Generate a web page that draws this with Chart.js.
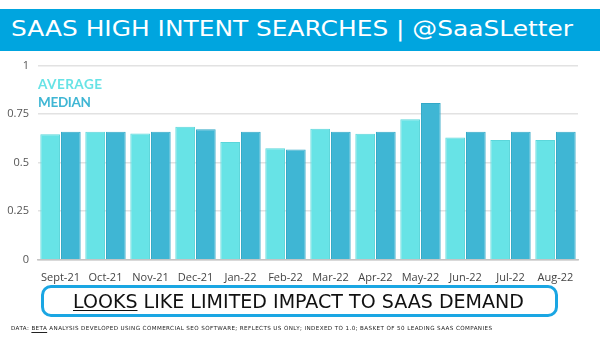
<!DOCTYPE html>
<html>
<head>
<meta charset="utf-8">
<script src="https://cdn.jsdelivr.net/npm/chart.js@4"></script>
<style>
  body { margin: 0; width: 600px; height: 338px; background: #fff; position: relative; overflow: hidden; font-family: "DejaVu Sans", sans-serif; }
  #titleBar { position: absolute; left: 0; top: 9px; width: 600px; height: 42px; background: #00a5df; }
  .txt { position: absolute; white-space: nowrap; line-height: 1; transform-origin: 0 50%; }
  #title { left: 11px; top: 19px; color: #fff; font-size: 21px; }
  #chartBox { position: absolute; left: 0; top: 50px; width: 600px; height: 237px; }
  .leg { left: 38px; font-family: Lato, sans-serif; font-weight: bold; font-size: 13.5px; }
  #calloutBox { position: absolute; left: 41px; top: 285px; width: 517px; height: 32px; box-sizing: border-box;
                border: 3px solid #1aa6e3; border-radius: 10px; }
  #callout { left: 73px; top: 292px; font-size: 19px; color: #111; }
  #foot { left: 11px; top: 326px; font-size: 5.6px; color: #222; }
  u { text-decoration-thickness: 1px; text-underline-offset: 2px; }
</style>
</head>
<body>
<div id="titleBar"></div>
<span class="txt" id="title" data-w="562" data-fit="scale">SAAS HIGH INTENT SEARCHES | @SaaSLetter</span>
<div id="chartBox"><canvas id="chart"></canvas></div>
<span class="txt leg" style="top:78px;color:#67e3e6;" data-w="64">AVERAGE</span>
<span class="txt leg" style="top:96px;color:#3fb6d4;" data-w="53">MEDIAN</span>
<div id="calloutBox"></div>
<span class="txt" id="callout" data-w="451" data-fit="scale"><u>LOOKS</u> LIKE LIMITED IMPACT TO SAAS DEMAND</span>
<span class="txt" id="foot" data-w="481">DATA: <u>BETA</u> ANALYSIS DEVELOPED USING COMMERCIAL SEO SOFTWARE; REFLECTS US ONLY; INDEXED TO 1.0; BASKET OF 50 LEADING SAAS COMPANIES</span>
<script>
var months = ["Sept-21", "Oct-21", "Nov-21", "Dec-21", "Jan-22", "Feb-22", "Mar-22", "Apr-22", "May-22", "Jun-22", "Jul-22", "Aug-22"];
var averageValues = [0.646, 0.66, 0.651, 0.685, 0.606, 0.574, 0.675, 0.649, 0.724, 0.63, 0.617, 0.617];
var medianValues = [0.66, 0.66, 0.66, 0.672, 0.66, 0.568, 0.66, 0.66, 0.807, 0.66, 0.66, 0.66];
var yTicks = [0, 0.25, 0.5, 0.75, 1];

// fit each text line to the width it has in the picture
document.querySelectorAll('[data-w]').forEach(function (el) {
    var target = parseFloat(el.getAttribute('data-w'));
    var natural = el.getBoundingClientRect().width;
    if (el.getAttribute('data-fit') === 'scale') {
        el.style.transform = 'scaleX(' + (target / natural) + ')';
    } else {
        var n = el.textContent.length - 1;
        el.style.letterSpacing = ((target - natural) / n) + 'px';
    }
});

var chartCanvas = document.getElementById("chart");
var chart = new Chart(chartCanvas, {
    type: 'bar',
    data: {
        labels: months,
        datasets: [
            {
                label: "AVERAGE",
                data: averageValues,
                backgroundColor: '#67e3e6',
                borderColor: '#5bd6da',
                borderWidth: 1
            },
            {
                label: "MEDIAN",
                data: medianValues,
                backgroundColor: '#3fb6d4',
                borderColor: '#33a8c7',
                borderWidth: 1
            }
        ]
    },
    options: {
        responsive: true,
        maintainAspectRatio: false,
        animation: false,
        categoryPercentage: 0.92,
        barPercentage: 0.95,
        layout: { padding: { left: 0, right: 22, top: 0, bottom: 0 } },
        plugins: {
            legend: { display: false },
            tooltip: { enabled: false }
        },
        scales: {
            x: {
                grid: { display: false },
                border: { color: '#c4c4c4', width: 1.5 },
                ticks: { color: '#444', font: { family: "Open Sans", size: 11 }, maxRotation: 0, padding: 3 }
            },
            y: {
                min: 0,
                max: 1,
                afterBuildTicks: function (axis) {
                    axis.ticks = yTicks.map(function (v) { return { value: v }; });
                },
                afterFit: function (axis) { axis.width = 38; },
                grid: { color: '#e2e2e2', lineWidth: 1.5, drawTicks: false },
                border: { display: false },
                ticks: {
                    color: '#555',
                    font: { family: "Open Sans", size: 11 },
                    padding: 9,
                    callback: function (value) { return String(value); }
                }
            }
        }
    }
});
</script>
</body>
</html>
